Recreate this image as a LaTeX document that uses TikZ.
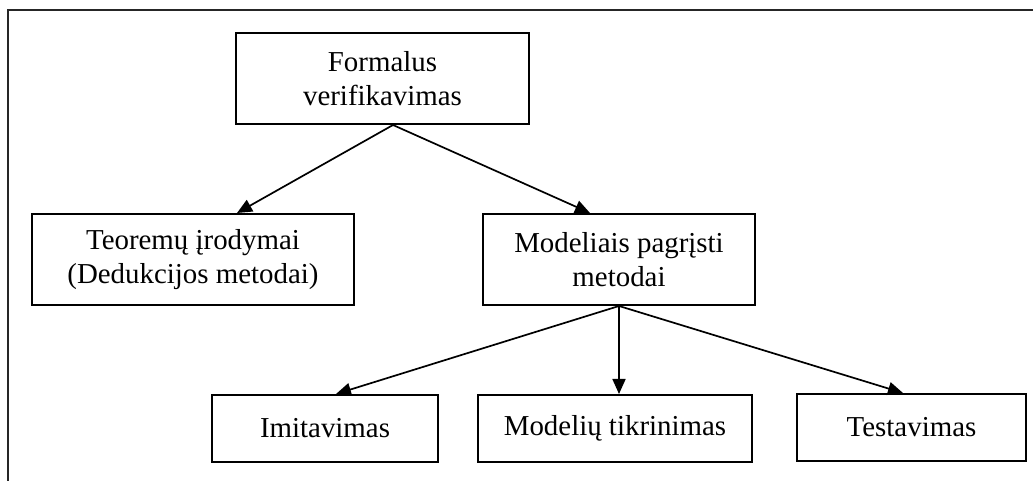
\documentclass[tikz,border=0pt]{standalone}
\usepackage{fontspec}
\setmainfont{Liberation Serif}
\usetikzlibrary{arrows.meta}
\tikzset{
  box/.style={draw=black, line width=2bp, rectangle, inner sep=0pt, align=center,
    font=\fontsize{29}{34}\selectfont},
  link/.style={line width=1.7bp, -{Triangle[length=15bp,width=13bp]}},
  frame/.style={line width=2.4bp, draw=black!85}
}
\begin{document}
\begin{tikzpicture}[x=1bp, y=-1bp]
  \useasboundingbox (0,0) rectangle (1033,481);
  % open frame: top and left edges
  \draw[frame] (8,481) -- (8,10) -- (1033,10);

  % top level
  \node[box, minimum width=293bp, minimum height=91bp] (F) at (382.5,78.5) {Formalus\\verifikavimas};
  % second level
  \node[box, minimum width=322bp, minimum height=91bp] (T) at (193,259.5) {Teoremų įrodymai\\(Dedukcijos metodai)};
  \node[box, minimum width=272bp, minimum height=91bp] (M) at (619,259.5) {Modeliais pagrįsti\\metodai};
  % third level
  \node[box, minimum width=226bp, minimum height=67bp] (I) at (325,428.5) {Imitavimas};
  \node[box, minimum width=274bp, minimum height=67bp] (K) at (615,428.5) {Modelių tikrinimas};
  \node[box, minimum width=229bp, minimum height=67bp] (S) at (911.5,427.5) {Testavimas};

  % connectors
  \draw[link] ([xshift=10.5bp]F.south) -- ([xshift=44bp]T.north);
  \draw[link] ([xshift=10.5bp]F.south) -- ([xshift=-29bp]M.north);
  \draw[link] (M.south) -- ([xshift=11bp]I.north);
  \draw[link] (M.south) -- ([xshift=4bp]K.north);
  \draw[link] (M.south) -- ([xshift=-8.5bp]S.north);
\end{tikzpicture}
\end{document}
